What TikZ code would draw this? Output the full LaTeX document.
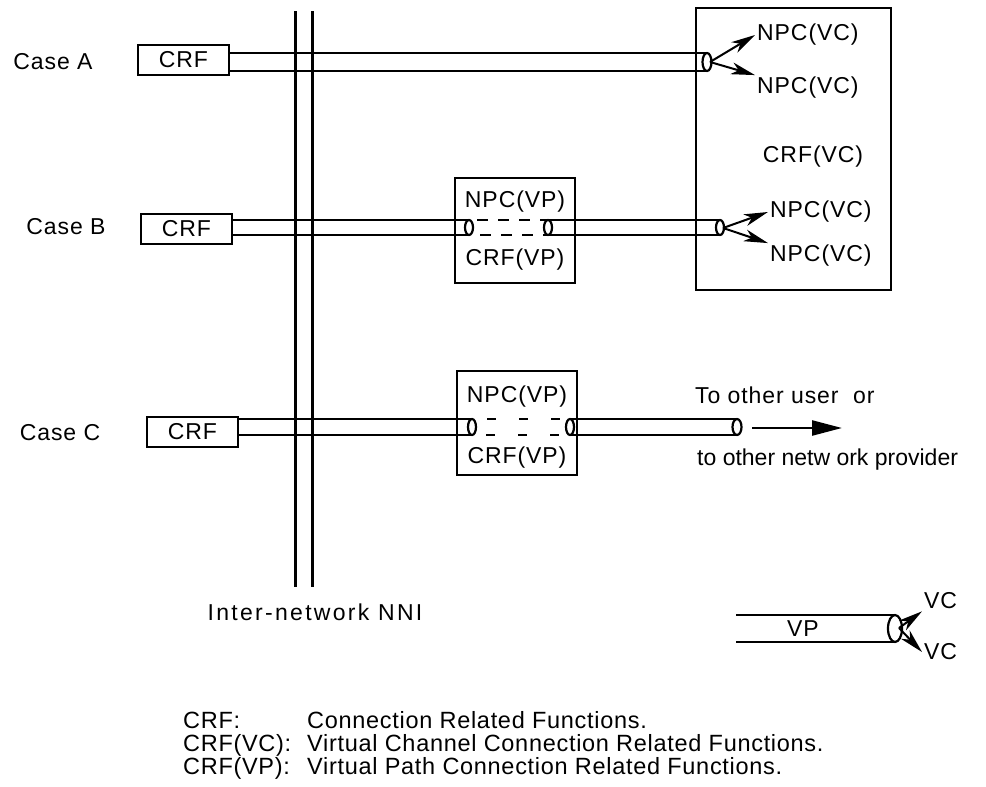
\documentclass[tikz,border=0pt]{standalone}
\usepackage{fontspec}
\setmainfont{Liberation Sans}
\newfontfamily\spaced[LetterSpace=4]{Liberation Sans}
\newfontfamily\wider[LetterSpace=10]{Liberation Sans}
\newfontfamily\keyfont[LetterSpace=3]{Liberation Sans}
\usetikzlibrary{positioning, calc, arrows.meta}

\tikzset{
    frame/.style={line width=2pt},
    nni/.style={line width=3pt},
    pipe/.style={line width=2.8pt},
    pipeend/.style={line width=2.2pt, fill=white},
    crfbox/.style={draw, line width=2pt, minimum width=91pt, minimum height=30pt, inner sep=0pt, font=\spaced\fontsize{23}{25}\selectfont},
    lbl/.style={font=\spaced\fontsize{23}{25}\selectfont, inner sep=2pt},
    fork/.style={line width=2pt, -{Stealth[length=24pt, width=12pt, inset=7pt]}},
    legend/.style={font=\keyfont\fontsize{23.5}{25}\selectfont, anchor=west, inner sep=0pt, text height=17pt, text depth=4pt},
}

\begin{document}
\begin{tikzpicture}[x=1pt, y=-1pt]
    \useasboundingbox (0,0) rectangle (986,787);

    % inter-network NNI
    \draw[nni] (295,11) -- (295,587);
    \draw[nni] (312,11) -- (312,587);
    \node[lbl, font=\wider\fontsize{23}{25}\selectfont] (nni) at (315,612) {Inter-network NNI};

    % CRF(VC) box
    \draw[frame] (696,8) rectangle (891,290);
    \node[lbl] (crfvc) at (813,157) {CRF(VC)};

    % Case A (top)
    \node[lbl] (caseA) at (53,62) {Case A};
    \node[crfbox] (crfA) at (183.5,60) {CRF};
    \draw[pipe] (crfA.east |- 0,53) -- (707,53);
    \draw[pipe] (crfA.east |- 0,71) -- (707,71);
    \draw[pipeend] (707,62) ellipse [x radius=4.5, y radius=9];
    \coordinate (endA) at (710,62);
    \node[lbl, anchor=west] (npcA1) at (755,35) {NPC(VC)};
    \node[lbl, anchor=west] (npcA2) at (755,88) {NPC(VC)};
    \draw[fork] (endA) -- (npcA1.west);
    \draw[fork] (endA) -- (npcA2.north west);

    % Case B (middle)
    \node[lbl] (caseB) at (66,227) {Case B};
    \node[crfbox] (crfB) at (186.5,229) {CRF};
    \draw[frame] (455,178) rectangle (575,283);
    \node[lbl] (npcB) at (515,202) {NPC(VP)};
    \node[lbl] (crfBvp) at (515,260) {CRF(VP)};
    \draw[pipe] (crfB.east |- 0,220) -- (469,220);
    \draw[pipe] (crfB.east |- 0,235) -- (469,235);
    \draw[pipeend] (469,227.5) ellipse [x radius=4, y radius=7.5];
    \draw[pipe, dash pattern=on 11pt off 10pt] (477,220) -- (548,220);
    \draw[pipe, dash pattern=on 11pt off 10pt] (480,235) -- (548,235);
    \draw[pipe] (548,220) -- (720,220);
    \draw[pipe] (548,235) -- (720,235);
    \draw[pipeend] (548,227.5) ellipse [x radius=4, y radius=7.5];
    \draw[pipeend] (720,227.5) ellipse [x radius=4, y radius=7.5];
    \coordinate (endB) at (723,228);
    \node[lbl, anchor=west] (npcB1) at (768,212) {NPC(VC)};
    \node[lbl, anchor=west] (npcB2) at (768,256) {NPC(VC)};
    \draw[fork] (endB) -- (npcB1.west);
    \draw[fork] (endB) -- (npcB2.north west);

    % Case C (bottom)
    \node[lbl] (caseC) at (60,433) {Case C};
    \node[crfbox] (crfC) at (192.5,432) {CRF};
    \draw[frame] (457,371) rectangle (577,475);
    \node[lbl] (npcC) at (517,397) {NPC(VP)};
    \node[lbl] (crfCvp) at (517,458) {CRF(VP)};
    \draw[pipe] (crfC.east |- 0,419) -- (472,419);
    \draw[pipe] (crfC.east |- 0,435) -- (472,435);
    \draw[pipeend] (472,427) ellipse [x radius=4, y radius=8];
    \draw[pipe, dash pattern=on 9pt off 23pt] (487,419) -- (565,419);
    \draw[pipe, dash pattern=on 9pt off 23pt] (486,435) -- (565,435);
    \draw[pipe] (570,419) -- (737,419);
    \draw[pipe] (570,435) -- (737,435);
    \draw[pipeend] (570,427) ellipse [x radius=4, y radius=8];
    \draw[pipeend] (737,427) ellipse [x radius=4.5, y radius=8];
    \coordinate (arrC0) at (752,428);
    \coordinate (arrC1) at (842,428);
    \draw[line width=2.5pt, -{Triangle[length=30pt, width=15pt]}] (arrC0) -- (arrC1);
    \node[lbl, anchor=west] (toUser) at (693,395) {To other user~ or};
    \node[lbl, anchor=west, font=\fontsize{23}{25}\selectfont] (toProv) at (695,460) {to other netw ork provider};

    % VP / VC key
    \draw[pipe] (736,615) -- (895,615);
    \draw[pipe] (736,642) -- (895,642);
    \node[lbl] (vp) at (803,629) {VP};
    \draw[pipeend] (895,628.5) ellipse [x radius=7, y radius=13.5];
    \coordinate (endK) at (899,628);
    \node[lbl, anchor=west] (vc1) at (922,601) {VC};
    \node[lbl, anchor=west] (vc2) at (922,652) {VC};
    \draw[fork] (endK) -- (vc1.south west);
    \draw[fork] (endK) -- (vc2.west);

    % abbreviations
    \node[legend] (k1) at (183,722) {CRF:};
    \node[legend] (k2) at (183,745) {CRF(VC):};
    \node[legend] (k3) at (183,768) {CRF(VP):};
    \node[legend] (d1) at (307,722) {Connection Related Functions.};
    \node[legend] (d2) at (307,745) {Virtual Channel Connection Related Functions.};
    \node[legend] (d3) at (307,768) {Virtual Path Connection Related Functions.};

\end{tikzpicture}
\end{document}
